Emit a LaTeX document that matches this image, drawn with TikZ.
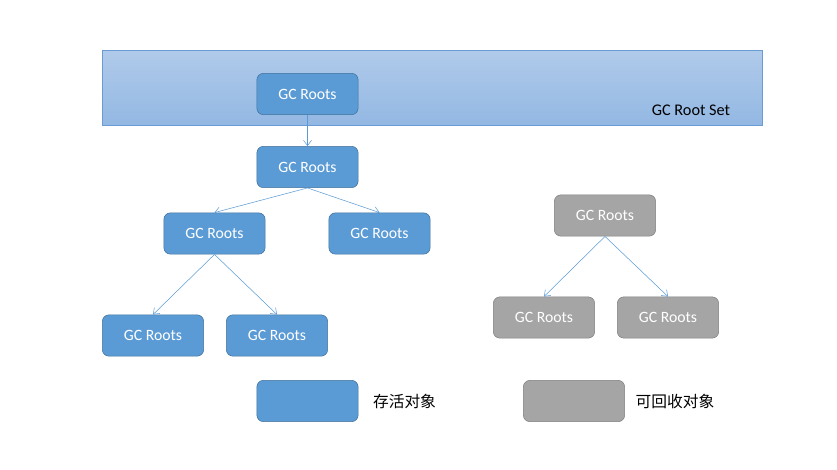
\documentclass[tikz,border=0pt]{standalone}
\usepackage{fontspec}
\setmainfont{Carlito}
\newfontfamily\cjk{Noto Sans CJK SC}
\usetikzlibrary{arrows.meta}
\definecolor{liveblue}{HTML}{5B9BD5}
\definecolor{liveedge}{HTML}{41719C}
\definecolor{deadgray}{HTML}{A5A5A5}
\definecolor{deadedge}{HTML}{7F7F7F}
\definecolor{bandtop}{HTML}{B0CAEA}
\definecolor{bandbot}{HTML}{93B8E3}
\definecolor{bandedge}{HTML}{6A9BD5}

\begin{document}
\begin{tikzpicture}[x=0.75pt,y=-0.75pt,
	live/.style={draw=liveedge, fill=liveblue, rounded corners=5pt, minimum width=76pt, minimum height=31pt, text=white, font=\fontsize{11.8}{14}\selectfont},
	dead/.style={live, draw=deadedge, fill=deadgray},
	legend/.style={font=\cjk\fontsize{11.8}{14}\selectfont},
	link/.style={-{Straight Barb[length=4pt,width=6pt]}, draw=liveblue, thin}]
	\useasboundingbox (0,0) rectangle (837,469);

	% root set band
	\shade[top color=bandtop, bottom color=bandbot] (102,50) rectangle (762,125);
	\draw[bandedge] (102,50) rectangle (762,125);
	\node[font=\fontsize{12.2}{15}\selectfont] (set) at (691,110) {GC Root Set};

	% live objects
	\node[live] (R0) at (307.5,94) {GC Roots};
	\node[live] (R1) at (307.5,167) {GC Roots};
	\node[live] (R2) at (214.5,233.5) {GC Roots};
	\node[live] (R3) at (379.5,233.5) {GC Roots};
	\node[live] (R4) at (153,335.5) {GC Roots};
	\node[live] (R5) at (277,335.5) {GC Roots};

	% unreachable objects
	\node[dead] (G0) at (605,215.5) {GC Roots};
	\node[dead] (G1) at (544,317.5) {GC Roots};
	\node[dead] (G2) at (668,317.5) {GC Roots};

	\draw[link] (R0.south) to (R1.north);
	\draw[link] (R1.south) to (R2.north);
	\draw[link] (R1.south) to (R3.north);
	\draw[link] (R2.south) to (R4.north);
	\draw[link] (R2.south) to (R5.north);
	\draw[link] (G0.south) to (G1.north);
	\draw[link] (G0.south) to (G2.north);

	% legend
	\node[live] (keyLive) at (307.5,401) {};
	\node[dead] (keyDead) at (574,401) {};
	\node[legend] (txtLive) at (404.5,401) {存活对象};
	\node[legend] (txtDead) at (675,401) {可回收对象};
\end{tikzpicture}
\end{document}
